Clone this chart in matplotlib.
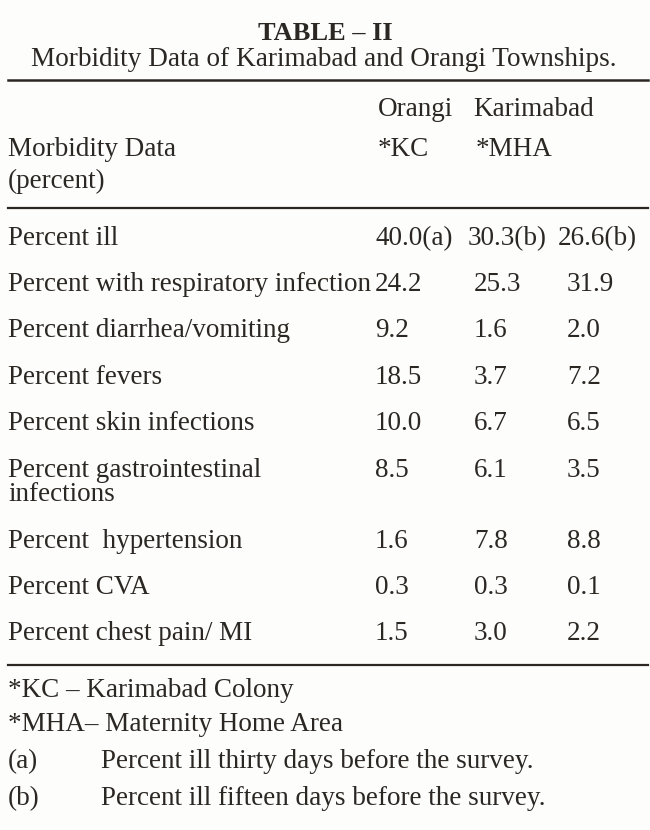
import matplotlib
matplotlib.use("Agg")
import matplotlib.pyplot as plt

plt.rcParams['font.family'] = ['Liberation Serif', 'DejaVu Serif']

title = "TABLE – II"
subtitle = "Morbidity Data of Karimabad and Orangi Townships."
group_headers = ["Orangi", "Karimabad"]
sub_headers = ["*KC", "*MHA"]
stub_header = ["Morbidity Data", "(percent)"]

row_labels = [
    "Percent ill",
    "Percent with respiratory infection",
    "Percent diarrhea/vomiting",
    "Percent fevers",
    "Percent skin infections",
    "Percent gastrointestinal\ninfections",
    "Percent  hypertension",
    "Percent CVA",
    "Percent chest pain/ MI",
]
col1 = [40.0, 24.2, 9.2, 18.5, 10.0, 8.5, 1.6, 0.3, 1.5]
col2 = [30.3, 25.3, 1.6, 3.7, 6.7, 6.1, 7.8, 0.3, 3.0]
col3 = [26.6, 31.9, 2.0, 7.2, 6.5, 3.5, 8.8, 0.1, 2.2]
first_row_marks = ["(a)", "(b)", "(b)"]

footnotes = [
    ("*KC – Karimabad Colony", ""),
    ("*MHA– Maternity Home Area", ""),
    ("(a)", "Percent ill thirty days before the survey."),
    ("(b)", "Percent ill fifteen days before the survey."),
]

W, H = 650, 830
fig = plt.figure(figsize=(W / 100, H / 100), dpi=100, facecolor="#fdfdfc")
ax = fig.add_axes([0, 0, 1, 1])
ax.set_xlim(0, W)
ax.set_ylim(H, 0)
ax.axis("off")

tc = "#2b2723"
fs = 19.5

ax.text(325, 40, title, ha="center", va="baseline", fontsize=19, color=tc, fontweight="bold")
ax.text(324, 66, subtitle, ha="center", va="baseline", fontsize=19.6, color=tc)
ax.plot([8, 648], [80, 80], color=tc, lw=1.8)

ax.text(378, 116, group_headers[0], ha="left", va="baseline", fontsize=fs, color=tc)
ax.text(473, 116, group_headers[1], ha="left", va="baseline", fontsize=fs, color=tc)
ax.text(378, 156, sub_headers[0], ha="left", va="baseline", fontsize=fs, color=tc)
ax.text(476, 156, sub_headers[1], ha="left", va="baseline", fontsize=fs, color=tc)
ax.text(8, 156, stub_header[0], ha="left", va="baseline", fontsize=fs, color=tc)
ax.text(8, 188, stub_header[1], ha="left", va="baseline", fontsize=fs, color=tc)
ax.plot([8, 648], [208, 208], color=tc, lw=1.6)

row_base = [245, 291, 337, 384, 430, 477, 548, 594, 640]
xs = [375, 474, 567]
for i, lab in enumerate(row_labels):
    y = row_base[i]
    for k, line in enumerate(lab.split("\n")):
        ax.text(8, y + 24 * k, line, ha="left", va="baseline", fontsize=fs, color=tc)
    for j, col in enumerate([col1, col2, col3]):
        s = f"{col[i]:.1f}"
        if i == 0:
            s += first_row_marks[j]
        x = xs[j] if i != 0 else [375, 468, 558][j]
        ax.text(x, y, s, ha="left", va="baseline", fontsize=fs, color=tc)

ax.plot([8, 648], [665, 665], color=tc, lw=1.6)

foot_base = [697, 731, 768, 805]
for (a, b), y in zip(footnotes, foot_base):
    ax.text(8, y, a, ha="left", va="baseline", fontsize=fs, color=tc)
    if b:
        ax.text(101, y, b, ha="left", va="baseline", fontsize=fs, color=tc)

fig.savefig("out.png", dpi=100, facecolor=fig.get_facecolor())
